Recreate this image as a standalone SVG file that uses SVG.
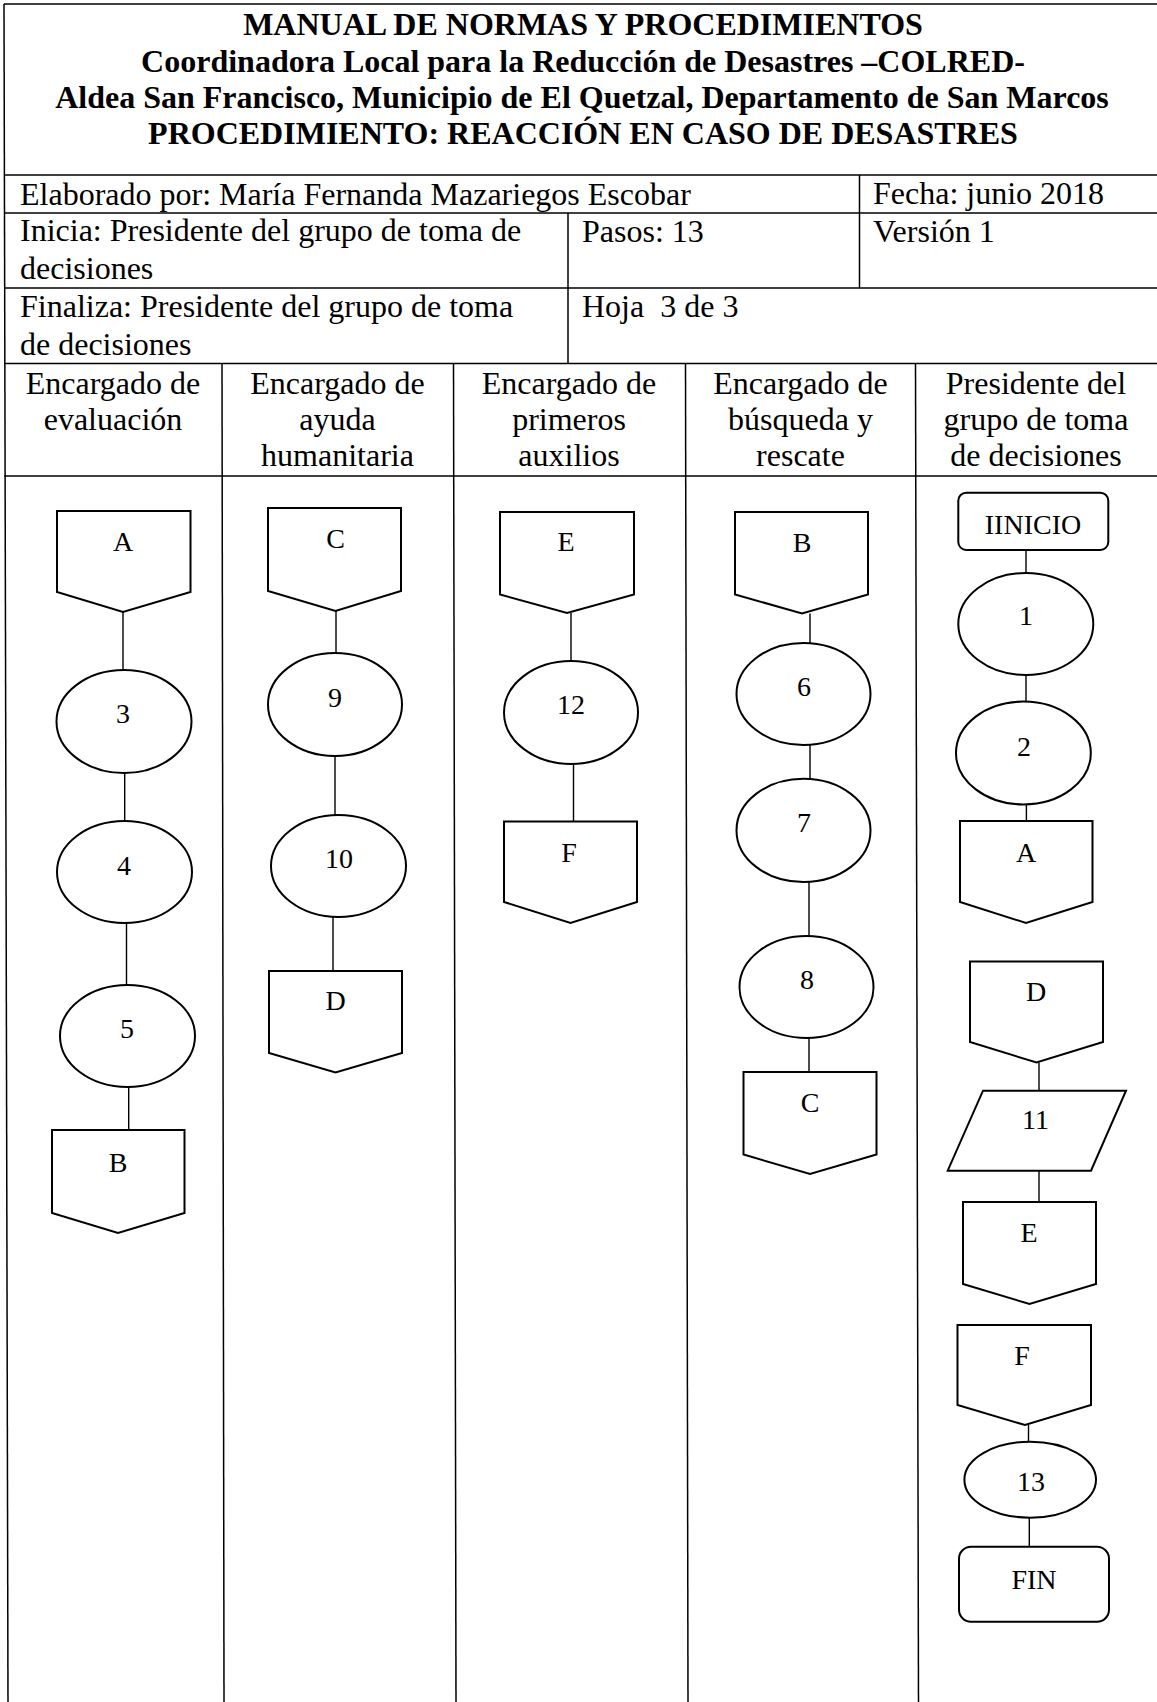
<svg xmlns="http://www.w3.org/2000/svg" width="1157" height="1702" viewBox="0 0 1157 1702">
<style>
.grid{stroke:#000;stroke-width:1.5;fill:none}
.shape{stroke:#000;stroke-width:2;fill:#fff}
.conn{stroke:#000;stroke-width:1.4;fill:none}
.title{font-family:"Liberation Serif","Times New Roman",serif;font-weight:bold;font-size:32px;text-anchor:middle;fill:#000}
.body{font-family:"Liberation Serif","Times New Roman",serif;font-size:32px;fill:#000}
.head{font-family:"Liberation Serif","Times New Roman",serif;font-size:32px;text-anchor:middle;fill:#000}
.lbl{font-family:"Liberation Serif","Times New Roman",serif;font-size:28px;text-anchor:middle;fill:#000}
</style>
<rect x="0" y="0" width="1157" height="1702" fill="#fff"/>
<g id="table">
<line class="grid" x1="4" y1="4" x2="1157" y2="4"/>
<line class="grid" x1="4" y1="4" x2="8" y2="1702"/>
<line class="grid" x1="4" y1="175" x2="1157" y2="175"/>
<line class="grid" x1="4" y1="213" x2="1157" y2="213"/>
<line class="grid" x1="4" y1="288" x2="1157" y2="288"/>
<line class="grid" x1="4" y1="363.5" x2="1157" y2="363.5"/>
<line class="grid" x1="4" y1="476" x2="1157" y2="476"/>
<line class="grid" x1="859.5" y1="175" x2="859.5" y2="288"/>
<line class="grid" x1="568" y1="213" x2="568" y2="363.5"/>
<line class="grid" x1="222" y1="363.5" x2="224" y2="1702"/>
<line class="grid" x1="453.5" y1="363.5" x2="456" y2="1702"/>
<line class="grid" x1="685.5" y1="363.5" x2="688" y2="1702"/>
<line class="grid" x1="915.5" y1="363.5" x2="918.5" y2="1702"/>
<text class="title" x="583" y="35">MANUAL DE NORMAS Y PROCEDIMIENTOS</text>
<text class="title" x="583" y="72">Coordinadora Local para la Reducción de Desastres –COLRED-</text>
<text class="title" x="582" y="108">Aldea San Francisco, Municipio de El Quetzal, Departamento de San Marcos</text>
<text class="title" x="583" y="144">PROCEDIMIENTO: REACCIÓN EN CASO DE DESASTRES</text>
<text class="body" x="20" y="205">Elaborado por: María Fernanda Mazariegos Escobar</text>
<text class="body" x="873" y="204">Fecha: junio 2018</text>
<text class="body" x="20" y="241">Inicia: Presidente del grupo de toma de</text>
<text class="body" x="20" y="279">decisiones</text>
<text class="body" x="582" y="242">Pasos: 13</text>
<text class="body" x="873" y="242">Versión 1</text>
<text class="body" x="20" y="317">Finaliza: Presidente del grupo de toma</text>
<text class="body" x="20" y="355">de decisiones</text>
<text class="body" x="582" y="317" xml:space="preserve">Hoja  3 de 3</text>
<text class="head" x="113" y="394">Encargado de</text>
<text class="head" x="113" y="430">evaluación</text>
<text class="head" x="337.5" y="394">Encargado de</text>
<text class="head" x="337.5" y="430">ayuda</text>
<text class="head" x="337.5" y="466">humanitaria</text>
<text class="head" x="569" y="394">Encargado de</text>
<text class="head" x="569" y="430">primeros</text>
<text class="head" x="569" y="466">auxilios</text>
<text class="head" x="800.5" y="394">Encargado de</text>
<text class="head" x="800.5" y="430">búsqueda y</text>
<text class="head" x="800.5" y="466">rescate</text>
<text class="head" x="1036" y="394">Presidente del</text>
<text class="head" x="1036" y="430">grupo de toma</text>
<text class="head" x="1036" y="466">de decisiones</text>
</g>
<g id="connectors">
<line class="conn" x1="123" y1="612" x2="123" y2="670"/>
<line class="conn" x1="124.7" y1="772.5" x2="124.7" y2="821"/>
<line class="conn" x1="126.5" y1="923" x2="126.5" y2="985"/>
<line class="conn" x1="128.7" y1="1087" x2="128.7" y2="1130"/>
<line class="conn" x1="336" y1="611" x2="336" y2="653"/>
<line class="conn" x1="335" y1="756" x2="335" y2="815"/>
<line class="conn" x1="333" y1="917" x2="333" y2="971"/>
<line class="conn" x1="571" y1="613" x2="571" y2="661.5"/>
<line class="conn" x1="573.5" y1="764" x2="573.5" y2="821.5"/>
<line class="conn" x1="810" y1="613.5" x2="810" y2="643"/>
<line class="conn" x1="810" y1="745" x2="810" y2="779"/>
<line class="conn" x1="809" y1="882" x2="809" y2="936"/>
<line class="conn" x1="809" y1="1038" x2="809" y2="1072"/>
<line class="conn" x1="1026" y1="550" x2="1026" y2="573"/>
<line class="conn" x1="1026" y1="675" x2="1026" y2="702"/>
<line class="conn" x1="1026.4" y1="804.5" x2="1026.4" y2="821"/>
<line class="conn" x1="1039" y1="1062.5" x2="1039" y2="1090.7"/>
<line class="conn" x1="1039" y1="1170.7" x2="1039" y2="1202"/>
<line class="conn" x1="1028.5" y1="1425" x2="1028.5" y2="1442"/>
<line class="conn" x1="1029.3" y1="1517.7" x2="1029.3" y2="1547"/>
</g>
<g id="n-A1"><polygon class="shape" points="57,511 190.5,511 190.5,592 123,612 57,592"/><text class="lbl" x="123" y="551">A</text></g>
<g id="n-3"><ellipse class="shape" cx="124" cy="721.5" rx="67.5" ry="51.5"/><text class="lbl" x="123" y="723">3</text></g>
<g id="n-4"><ellipse class="shape" cx="124.5" cy="872" rx="67.5" ry="51"/><text class="lbl" x="124" y="875">4</text></g>
<g id="n-5"><ellipse class="shape" cx="127.5" cy="1036" rx="67.5" ry="51"/><text class="lbl" x="127" y="1038">5</text></g>
<g id="n-B1"><polygon class="shape" points="52,1130 184.5,1130 184.5,1213 118,1233 52,1213"/><text class="lbl" x="118" y="1172">B</text></g>
<g id="n-C2"><polygon class="shape" points="268,508 401,508 401,591 335.5,611 268,591"/><text class="lbl" x="335.5" y="548">C</text></g>
<g id="n-9"><ellipse class="shape" cx="335" cy="704.5" rx="67" ry="51.5"/><text class="lbl" x="335" y="707">9</text></g>
<g id="n-10"><ellipse class="shape" cx="338.5" cy="866" rx="67.5" ry="51"/><text class="lbl" x="339" y="868">10</text></g>
<g id="n-D2"><polygon class="shape" points="269,971 402,971 402,1053 335.5,1072.5 269,1053"/><text class="lbl" x="335.5" y="1010">D</text></g>
<g id="n-E3"><polygon class="shape" points="500,512 634,512 634,594.5 567,613 500,594.5"/><text class="lbl" x="566" y="551">E</text></g>
<g id="n-12"><ellipse class="shape" cx="571" cy="712.5" rx="67" ry="51.5"/><text class="lbl" x="571" y="714">12</text></g>
<g id="n-F3"><polygon class="shape" points="504,821.5 637,821.5 637,902 570.5,923 504,902"/><text class="lbl" x="569" y="862">F</text></g>
<g id="n-B4"><polygon class="shape" points="735,512 868,512 868,594.5 802,613.5 735,594.5"/><text class="lbl" x="802" y="552">B</text></g>
<g id="n-6"><ellipse class="shape" cx="803.5" cy="694" rx="67" ry="51"/><text class="lbl" x="804" y="696">6</text></g>
<g id="n-7"><ellipse class="shape" cx="803.5" cy="830.4" rx="67" ry="51.6"/><text class="lbl" x="804" y="832">7</text></g>
<g id="n-8"><ellipse class="shape" cx="806.5" cy="987" rx="67" ry="51"/><text class="lbl" x="807" y="989">8</text></g>
<g id="n-C4"><polygon class="shape" points="743.5,1072 876.5,1072 876.5,1154.5 810,1174 743.5,1154.5"/><text class="lbl" x="810" y="1112">C</text></g>
<g id="n-inicio"><rect class="shape" x="958.3" y="492.7" width="150" height="57.3" rx="8"/><text class="lbl" x="1033" y="534">IINICIO</text></g>
<g id="n-1"><ellipse class="shape" cx="1025.8" cy="624" rx="67.5" ry="51"/><text class="lbl" x="1026" y="625">1</text></g>
<g id="n-2"><ellipse class="shape" cx="1023.4" cy="753" rx="67.4" ry="51.4"/><text class="lbl" x="1024" y="756">2</text></g>
<g id="n-A5"><polygon class="shape" points="960,821 1092.5,821 1092.5,902 1026,923 960,902"/><text class="lbl" x="1026" y="862">A</text></g>
<g id="n-D5"><polygon class="shape" points="970,961.5 1103,961.5 1103,1042 1036.5,1062.5 970,1042"/><text class="lbl" x="1036" y="1001">D</text></g>
<g id="n-11"><polygon class="shape" points="983,1090.7 1126,1090.7 1091,1170.7 947.7,1170.7"/><text class="lbl" x="1035.5" y="1129">11</text></g>
<g id="n-E5"><polygon class="shape" points="963,1202 1096,1202 1096,1284 1029.5,1304 963,1284"/><text class="lbl" x="1029" y="1242">E</text></g>
<g id="n-F5"><polygon class="shape" points="957.5,1325 1091,1325 1091,1405 1025,1425 957.5,1405"/><text class="lbl" x="1022" y="1365">F</text></g>
<g id="n-13"><ellipse class="shape" cx="1030.2" cy="1479.7" rx="65.8" ry="38"/><text class="lbl" x="1031" y="1491">13</text></g>
<g id="n-fin"><rect class="shape" x="959" y="1546.7" width="150" height="75" rx="12"/><text class="lbl" x="1034" y="1589">FIN</text></g>
</svg>
